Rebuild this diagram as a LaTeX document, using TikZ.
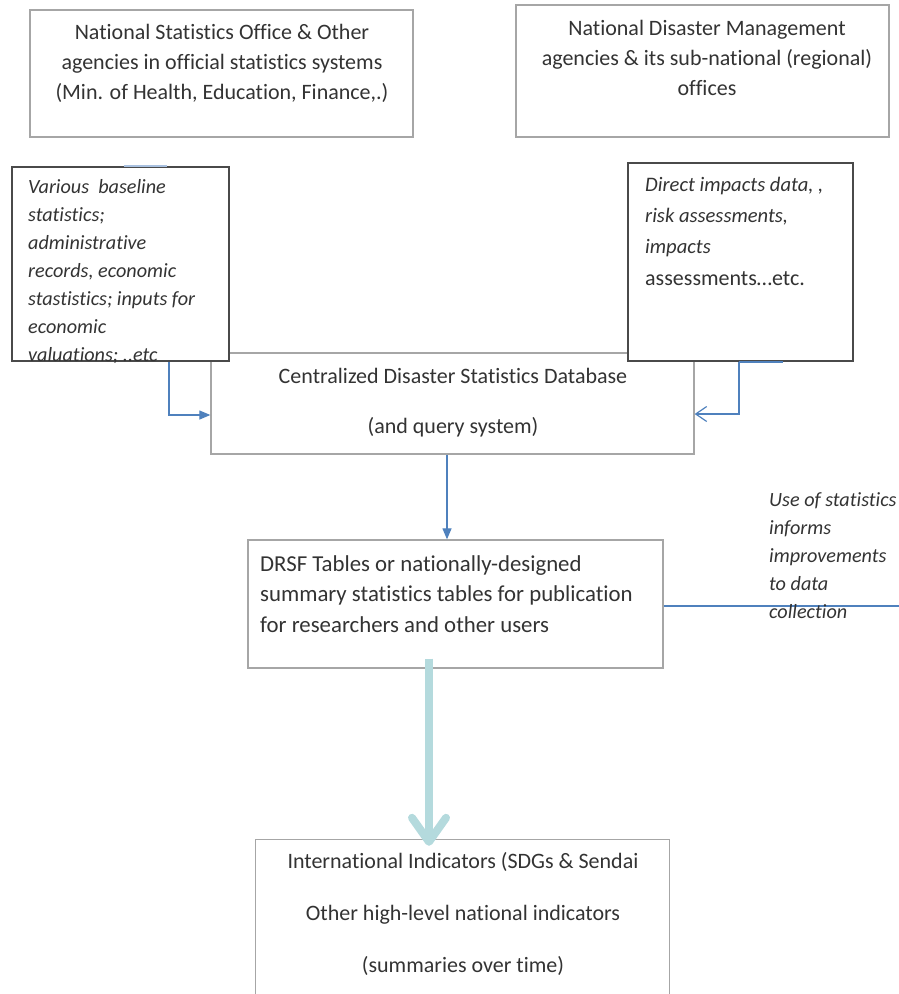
\documentclass[tikz,border=0pt]{standalone}
\usepackage{fontspec}
\setmainfont{Carlito}[Ligatures={NoCommon}]
\usetikzlibrary{arrows.meta,calc}
\definecolor{txt}{HTML}{333333}
\definecolor{lgray}{HTML}{A6A6A6}
\definecolor{dgray}{HTML}{4A4A4A}
\definecolor{lblue}{HTML}{4F81BD}
\definecolor{pblue}{HTML}{A9C1E0}
\definecolor{teal1}{HTML}{B4DADD}
\tikzset{
  graybox/.style={draw=lgray, line width=1.3pt, fill=white, inner sep=0pt},
  darkbox/.style={draw=dgray, line width=2pt, fill=white, inner sep=0pt},
  txtc/.style={text=txt, align=center, inner sep=0pt, font=\fontsize{22}{30}\selectfont},
  txtl/.style={text=txt, align=left, inner sep=0pt, anchor=west},
  blueline/.style={draw=lblue, line width=1.2pt},
}
\begin{document}
\begin{tikzpicture}[x=1pt,y=-1pt]
\useasboundingbox (0,0) rectangle (899,994);
% top boxes
\node[graybox, minimum width=383pt, minimum height=127pt] (A) at (221.5,73.5) {};
\node[txtc] (Atext) at (222,63) {National Statistics Office \& Other\\agencies in official statistics systems\\(Min. of Health, Education, Finance,.)};
\node[graybox, minimum width=373pt, minimum height=132pt] (B) at (702.5,71) {};
\node[txtc] (Btext) at (707,57.5) {National Disaster Management\\agencies \& its sub-national (regional)\\offices};
% central database
\node[graybox, minimum width=483pt, minimum height=101pt] (D) at (452.5,403.5) {};
\node[txtc, font=\fontsize{22}{50}\selectfont] (Dtext) at (453,403) {Centralized Disaster Statistics Database\\(and query system)};
% side input boxes
\node[darkbox, minimum width=217pt, minimum height=194pt] (C) at (120.5,264) {};
\begin{scope}
\clip (C.south west) rectangle (C.north east);
\node[txtl, font=\fontsize{20.2}{28}\selectfont\itshape] (Ctext) at (28,272) {Various\ \ baseline\\statistics;\\administrative\\records, economic\\stastistics; inputs for\\economic\\valuations; ..etc};
\end{scope}
\node[darkbox, minimum width=225pt, minimum height=198pt] (E) at (740.5,262) {};
\node[txtl, font=\fontsize{20.6}{31.3}\selectfont] (Etext) at (645,231) {\itshape Direct impacts data, ,\\\itshape risk assessments,\\\itshape impacts\\\fontsize{22}{31.3}\selectfont assessments\dots etc.};
% stray segments
\draw[draw=pblue, line width=1.2pt] ([xshift=113pt]C.north west) -- ([xshift=156pt]C.north west);
\draw[blueline] ([xshift=-115pt]E.south east) -- ([xshift=-71pt]E.south east);
% connectors into database
\draw[blueline, -{Triangle[length=11pt,width=9pt]}] ([xshift=158pt]C.south west) |- ([yshift=-11.5pt]D.west);
\draw[blueline, -{Straight Barb[length=11pt,width=15pt]}] ([xshift=-115pt]E.south east) |- ([yshift=-10.5pt]D.east);
% DRSF tables
\node[graybox, minimum width=415pt, minimum height=128pt] (F) at (455.5,604) {};
\node[txtl, font=\fontsize{22.8}{30.5}\selectfont] (Ftext) at (260,594) {DRSF Tables or nationally-designed\\summary statistics tables for publication\\for researchers and other users};
\coordinate (ax) at (447,0);
\draw[blueline, -{Triangle[length=11pt,width=9pt]}] (D.south -| ax) -- (F.north -| ax);
% feedback
\coordinate (fbend) at (899,606);
\draw[blueline] (F.east |- fbend) -- (fbend);
\node[txtl, font=\fontsize{20.2}{28}\selectfont\itshape] (fbtext) at (769,556) {Use of statistics\\informs\\improvements\\to data\\collection};
% indicators box (open bottom)
\node[minimum width=413pt, minimum height=170pt, inner sep=0pt] (G) at (462.5,925) {};
\draw[draw=lgray, line width=1.3pt] (G.south west) -- (G.north west) -- (G.north east) -- (G.south east);
\node[txtc, font=\fontsize{22}{52}\selectfont] (Gtext) at (463,914) {International Indicators (SDGs \& Sendai\\Other high-level national indicators\\(summaries over time)};
% thick arrow
\coordinate (bx) at (429,0);
\draw[draw=teal1, line width=8pt, -{Straight Barb[length=24pt,width=34pt,line cap=round,round]}] ([yshift=10pt]F.south -| bx) -- ([yshift=-6pt]G.north -| bx);
\end{tikzpicture}
\end{document}
